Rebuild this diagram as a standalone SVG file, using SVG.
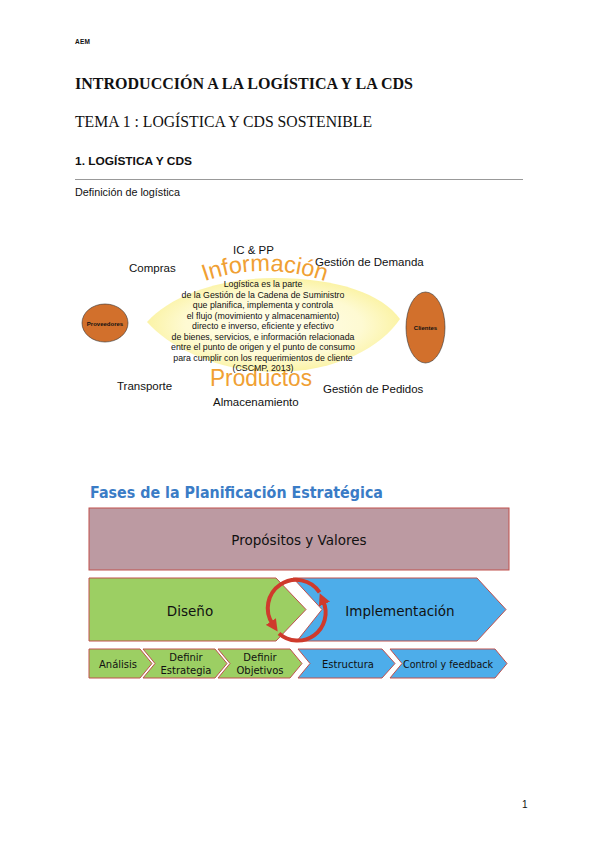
<svg xmlns="http://www.w3.org/2000/svg" width="600" height="848" viewBox="0 0 600 848">
<style>
.sans{font-family:"Liberation Sans",Arial,sans-serif;fill:#111}
.serif{font-family:"Liberation Serif","Times New Roman",serif;fill:#111}
.lbl{font-family:"Liberation Sans",Arial,sans-serif;font-size:11.5px;fill:#111}
.def{font-family:"Liberation Sans",Arial,sans-serif;font-size:8.8px;fill:#111;text-anchor:middle}
.big{font-family:"Liberation Sans",Arial,sans-serif;font-size:23.5px;fill:#F0A033}
.tiny{font-family:"Liberation Sans",Arial,sans-serif;font-size:6px;font-weight:bold;fill:#111;text-anchor:middle}
.node{stroke:#333;stroke-width:0.6;fill:#D2702C}
.box{stroke:#C0504D;stroke-width:1}
.green{fill:#9CCF63}
.blue{fill:#4DADEA}
.pink{fill:#BC9AA2}
.t2{font-family:"DejaVu Sans","Liberation Sans",sans-serif;fill:#111;text-anchor:middle}
.red{fill:none;stroke:#CF3A2C;stroke-width:4}
</style>
<defs>
<radialGradient id="yel" cx="50%" cy="50%" r="50%">
<stop offset="0" stop-color="#FFFEF0"/>
<stop offset="0.7" stop-color="#FEFAD2"/>
<stop offset="1" stop-color="#FBF3A6"/>
</radialGradient>
<marker id="ah" markerUnits="userSpaceOnUse" markerWidth="12" markerHeight="12" viewBox="0 0 12 12" refX="3" refY="6" orient="auto">
<path d="M0,0 L12,6 L0,12 Z" fill="#CF3A2C"/>
</marker>
</defs>
<rect width="600" height="848" fill="#fff"/>

<g id="header">
<text class="sans" x="75" y="44" font-size="6.5" font-weight="bold" textLength="15">AEM</text>
<text class="serif" x="75" y="89" font-size="16.5" font-weight="bold" textLength="338" lengthAdjust="spacingAndGlyphs">INTRODUCCIÓN A LA LOGÍSTICA Y LA CDS</text>
<text class="serif" x="75" y="127" font-size="16.5" textLength="297" lengthAdjust="spacingAndGlyphs">TEMA 1 : LOGÍSTICA Y CDS SOSTENIBLE</text>
<text class="sans" x="75" y="165" font-size="11.5" font-weight="bold" textLength="117" lengthAdjust="spacingAndGlyphs">1. LOGÍSTICA Y CDS</text>
<line x1="75" y1="179.5" x2="523" y2="179.5" stroke="#999" stroke-width="1"/>
<text class="sans" x="75" y="196" font-size="10.5" textLength="105" lengthAdjust="spacingAndGlyphs">Definición de logística</text>
</g>

<g id="flowshape">
<path id="flow" d="M147,322 C172,294 222,278 275,278 C338,278 382,294 400,319 C382,346 338,372 275,372 C222,372 172,350 147,322 Z" fill="url(#yel)"/>
</g>

<g id="proveedores">
<ellipse class="node" cx="105" cy="323" rx="23" ry="19"/>
<text class="tiny" x="105" y="325.5">Proveedores</text>
</g>
<g id="clientes">
<ellipse class="node" cx="425.5" cy="327.5" rx="19.5" ry="35.5"/>
<text class="tiny" x="425.5" y="330">Clientes</text>
</g>

<g id="labels1">
<text class="lbl" x="233" y="254">IC &amp; PP</text>
<text class="lbl" x="129" y="272">Compras</text>
<text class="lbl" x="315" y="266">Gestión de Demanda</text>
<text class="lbl" x="117" y="390">Transporte</text>
<text class="lbl" x="213" y="406">Almacenamiento</text>
<text class="lbl" x="323" y="393">Gestión de Pedidos</text>
<path id="arcI" d="M193,286 A180,180 0 0 1 337,286" fill="none"/>
<text class="big"><textPath href="#arcI" startOffset="50%" text-anchor="middle">Información</textPath></text>
<text class="big" x="210" y="386" textLength="102" lengthAdjust="spacingAndGlyphs">Productos</text>
</g>

<g id="definicion">
<text class="def" x="263" y="287">Logística es la parte</text>
<text class="def" x="263" y="297.5">de la Gestión de la Cadena de Suministro</text>
<text class="def" x="263" y="308">que planifica, implementa y controla</text>
<text class="def" x="263" y="318.5">el flujo (movimiento y almacenamiento)</text>
<text class="def" x="263" y="329">directo e inverso, eficiente y efectivo</text>
<text class="def" x="263" y="339.5">de bienes, servicios, e información relacionada</text>
<text class="def" x="263" y="350">entre el punto de origen y el punto de consumo</text>
<text class="def" x="263" y="360.5">para cumplir con los requerimientos de cliente</text>
<text class="def" x="263" y="370.5">(CSCMP, 2013)</text>
</g>

<text x="90" y="498" font-family="'DejaVu Sans','Liberation Sans',sans-serif" font-size="15" font-weight="bold" fill="#3A7CC6" textLength="293" lengthAdjust="spacingAndGlyphs">Fases de la Planificación Estratégica</text>

<g id="propositos">
<rect class="box pink" x="89" y="508" width="420" height="62"/>
<text class="t2" x="299" y="545" font-size="13.5">Propósitos y Valores</text>
</g>
<g id="diseno">
<polygon class="box green" points="89,578 276,578 306,609.5 276,641 89,641"/>
<text class="t2" x="190" y="616" font-size="13.5">Diseño</text>
</g>
<g id="implementacion">
<polygon class="box blue" points="293,578 477,578 506,609.5 477,641 297,641 322,609.5"/>
<text class="t2" x="400" y="616" font-size="13.5">Implementación</text>
</g>

<g id="analisis">
<polygon class="box green" points="89,649 140,649 152,663.5 140,678 89,678"/>
<text class="t2" x="118" y="668" font-size="10">Análisis</text>
</g>
<g id="estrategia">
<polygon class="box green" points="143,649 215,649 227,663.5 215,678 143,678 155,663.5"/>
<text class="t2" x="186" y="661" font-size="10">Definir</text>
<text class="t2" x="186" y="674" font-size="10">Estrategia</text>
</g>
<g id="objetivos">
<polygon class="box green" points="218,649 290,649 302,663.5 290,678 218,678 230,663.5"/>
<text class="t2" x="260" y="661" font-size="10">Definir</text>
<text class="t2" x="260" y="674" font-size="10">Objetivos</text>
</g>
<g id="estructura">
<polygon class="box blue" points="298,649 382,649 395,663.5 382,678 298,678 310,663.5"/>
<text class="t2" x="348" y="668" font-size="10">Estructura</text>
</g>
<g id="control">
<polygon class="box blue" points="390,649 495,649 507,663.5 495,678 390,678 402,663.5"/>
<text class="t2" x="448" y="668" font-size="10" textLength="90" lengthAdjust="spacingAndGlyphs">Control y feedback</text>
</g>

<g id="connectors">
<path d="M319.6,592.3 A28,28 0 0 0 272.6,624" class="red" marker-end="url(#ah)"/>
<path d="M279,633.5 A28,28 0 0 0 323.3,601.4" class="red" marker-end="url(#ah)"/>
</g>

<text class="sans" x="522" y="808" font-size="10">1</text>
</svg>
